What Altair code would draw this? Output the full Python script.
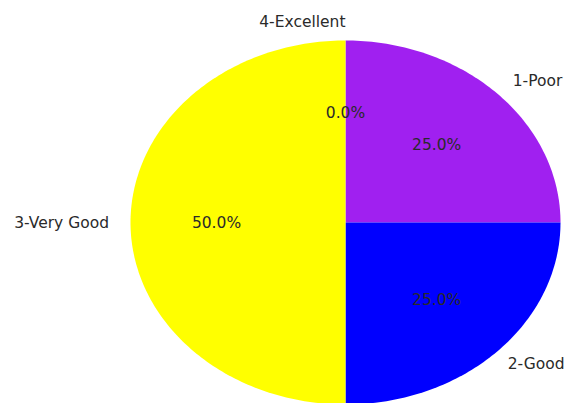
import altair as alt
import numpy as np
import pandas as pd

# ---- data ----
labels = ["1-Poor", "2-Good", "3-Very Good", "4-Excellent"]
shares = [25.0, 25.0, 50.0, 0.0]
colors = ["#A020F0", "#0000FF", "#FFFF00", "#00A000"]

# ---- build wedge outlines (unit circle, clockwise from 12 o'clock) ----
total = sum(shares)
poly_rows = []
text_rows = []
start = 90.0
for lab, s in zip(labels, shares):
    sweep = 360.0 * s / total
    a0, a1 = start, start - sweep
    n = max(2, int(sweep) + 1)
    poly_rows.append(dict(label=lab, i=0, x=0.0, y=0.0))
    for k, a in enumerate(np.linspace(a0, a1, n)):
        r = np.deg2rad(a)
        poly_rows.append(dict(label=lab, i=k + 1, x=float(np.cos(r)), y=float(np.sin(r))))
    poly_rows.append(dict(label=lab, i=n + 1, x=0.0, y=0.0))
    mid = np.deg2rad((a0 + a1) / 2.0)
    cx, cy = float(np.cos(mid)), float(np.sin(mid))
    text_rows.append(dict(label=lab, lx=1.1 * cx, ly=1.1 * cy, px=0.6 * cx, py=0.6 * cy,
                          pct=f"{s / total * 100:.1f}%",
                          side=("left" if cx > 0 else "right"),
                          lower=bool(cx > 0 and cy < 0)))
    start = a1

poly = pd.DataFrame(poly_rows)
txt = pd.DataFrame(text_rows)

W, H = 557, 395
cx_px, cy_px = 337.5, 214.5
rx, ry = 215.0, 182.0
xs = alt.Scale(domain=[-cx_px / rx, (W - cx_px) / rx], nice=False, zero=False)
ys = alt.Scale(domain=[-(H - cy_px) / ry, cy_px / ry], nice=False, zero=False)

pie = alt.Chart(poly).mark_line(filled=True, clip=True, strokeWidth=0).encode(
    x=alt.X("x:Q", scale=xs, axis=None),
    y=alt.Y("y:Q", scale=ys, axis=None),
    color=alt.Color("label:N", scale=alt.Scale(domain=labels, range=colors), legend=None),
    detail="label:N",
    order="i:Q",
)

font = dict(font="DejaVu Sans", fontSize=15.5, color="#2a2a2a", baseline="middle")
enc = dict(x=alt.X("lx:Q", scale=xs, axis=None), y=alt.Y("ly:Q", scale=ys, axis=None), text="label:N")

lab_left_up = alt.Chart(txt).transform_filter("datum.side == 'left' && !datum.lower").mark_text(
    align="left", **font).encode(**enc)
lab_left_low = alt.Chart(txt).transform_filter("datum.side == 'left' && datum.lower").mark_text(
    align="left", dx=-5, **font).encode(**enc)
lab_right = alt.Chart(txt).transform_filter("datum.side == 'right'").mark_text(
    align="right", **font).encode(**enc)
pct = alt.Chart(txt).mark_text(align="center", **font).encode(
    x=alt.X("px:Q", scale=xs, axis=None), y=alt.Y("py:Q", scale=ys, axis=None), text="pct:N")

chart = alt.layer(pie, lab_left_up, lab_left_low, lab_right, pct).properties(
    width=W, height=H, padding=0, autosize="none"
).configure_view(stroke=None)

chart.save("out.html", embed_options={"renderer": "svg", "actions": False})
